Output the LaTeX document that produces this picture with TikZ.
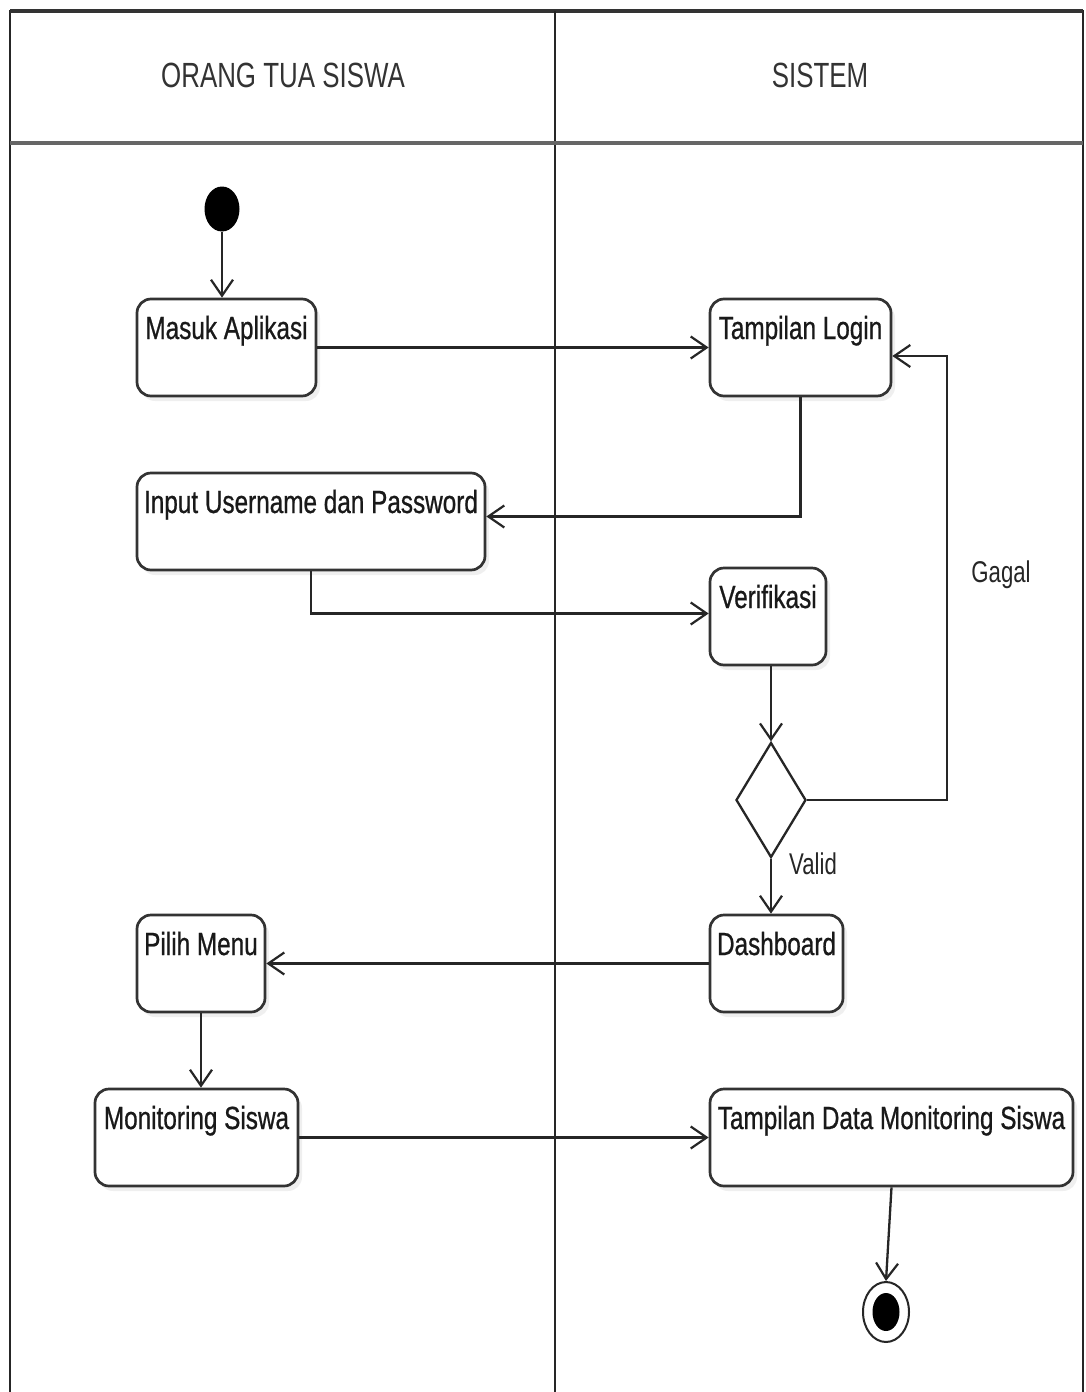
\documentclass[tikz,border=0pt]{standalone}
\usepackage{fontspec}
\usetikzlibrary{shapes.geometric,arrows.meta,shadows}
\newfontfamily\boxfont{Liberation Sans}[FakeStretch=0.76,FakeBold=0.7]
\newfontfamily\headfont{Liberation Sans}[FakeStretch=0.74]
\begin{document}
\begin{tikzpicture}[x=1pt,y=-1pt,
  lane/.style={line width=2.2pt, draw=black!85},
  head/.style={font=\headfont\fontsize{35}{40}\selectfont, text=black!80, inner sep=0pt},
  act/.style={rectangle, draw=black!80, line width=2.7pt, rounded corners=14pt, fill=white,
    text height=30pt, text depth=47pt, inner ysep=10pt, inner xsep=0pt,
    font=\boxfont\fontsize{32}{36}\selectfont, text=black!90,
    drop shadow={opacity=0.12, shadow xshift=4pt, shadow yshift=-5pt}},
  lbl/.style={font=\headfont\fontsize{30}{34}\selectfont, text=black!85, inner sep=0pt},
  flow/.style={line width=2.3pt, draw=black!85, -{Straight Barb[length=16pt,width=22pt,line width=2.2pt]}},
  decision/.style={diamond, draw=black!85, line width=2.3pt, fill=white, inner sep=0pt,
    minimum width=70pt, minimum height=115pt},
]
\useasboundingbox (0,0) rectangle (1085,1392);
\fill[white] (0,0) rectangle (1085,1392);

% swimlane frame
\draw[lane] (10,1392) -- (10,11) -- (1083,11) -- (1083,1392);
\draw[line width=3.5pt, draw=black!80] (10,11) -- (1083,11);
\draw[lane] (555,11) -- (555,1392);
\draw[line width=4pt, draw=black!60] (10,143) -- (1083,143);

\node[head] (laneA) at (283,75) {ORANG TUA SISWA};
\node[head] (laneB) at (820,75) {SISTEM};

% start and end states
\node[ellipse, fill=black, minimum width=35pt, minimum height=45pt, inner sep=0pt] (start) at (222,209) {};
\node[ellipse, draw=black!85, line width=2pt, fill=white, minimum width=46pt, minimum height=60pt, inner sep=0pt,
  path picture={\fill[black] (path picture bounding box.center) ellipse (13.5pt and 19pt);}] (stop) at (886,1312) {};

% activities
\node[act, minimum width=179pt] (masuk) at (226.5,347.5) {Masuk Aplikasi};
\node[act, minimum width=181pt] (login) at (800.5,347.5) {Tampilan Login};
\node[act, minimum width=348pt] (input) at (311,521.5) {Input Username dan Password};
\node[act, minimum width=116pt] (verif) at (768,616.5) {Verifikasi};
\node[decision] (dec) at (771,800) {};
\node[act, minimum width=133pt] (dash) at (776.5,963.5) {Dashboard};
\node[act, minimum width=128pt] (pilih) at (201,963.5) {Pilih Menu};
\node[act, minimum width=203pt] (monitor) at (196.5,1137.5) {Monitoring Siswa};
\node[act, minimum width=363pt] (tdata) at (891.5,1137.5) {Tampilan Data Monitoring Siswa};

% guard labels
\node[lbl] (gagal) at (1001,575) {Gagal};
\node[lbl] (valid) at (813,864) {Valid};

\coordinate (loopcorner) at (947,356);

% control flow
\draw[flow] (start.south) -- (start.south |- masuk.north);
\draw[flow] (masuk.east) -- (login.west);
\draw[flow] (login.south) |- ([yshift=5pt]input.east);
\draw[flow] (input.south) |- ([yshift=3pt]verif.west);
\draw[flow] (dec.north |- verif.south) -- (dec.north);
\draw[flow] (dec.east) -| (loopcorner) -- (loopcorner -| login.east);
\draw[flow] (dec.south) -- (dec.south |- dash.north);
\draw[flow] (dash.west) -- (pilih.east);
\draw[flow] (pilih.south) -- (pilih.south |- monitor.north);
\draw[flow] (monitor.east) -- (tdata.west);
\draw[flow] (tdata.south) -- (stop.north);
\end{tikzpicture}
\end{document}
